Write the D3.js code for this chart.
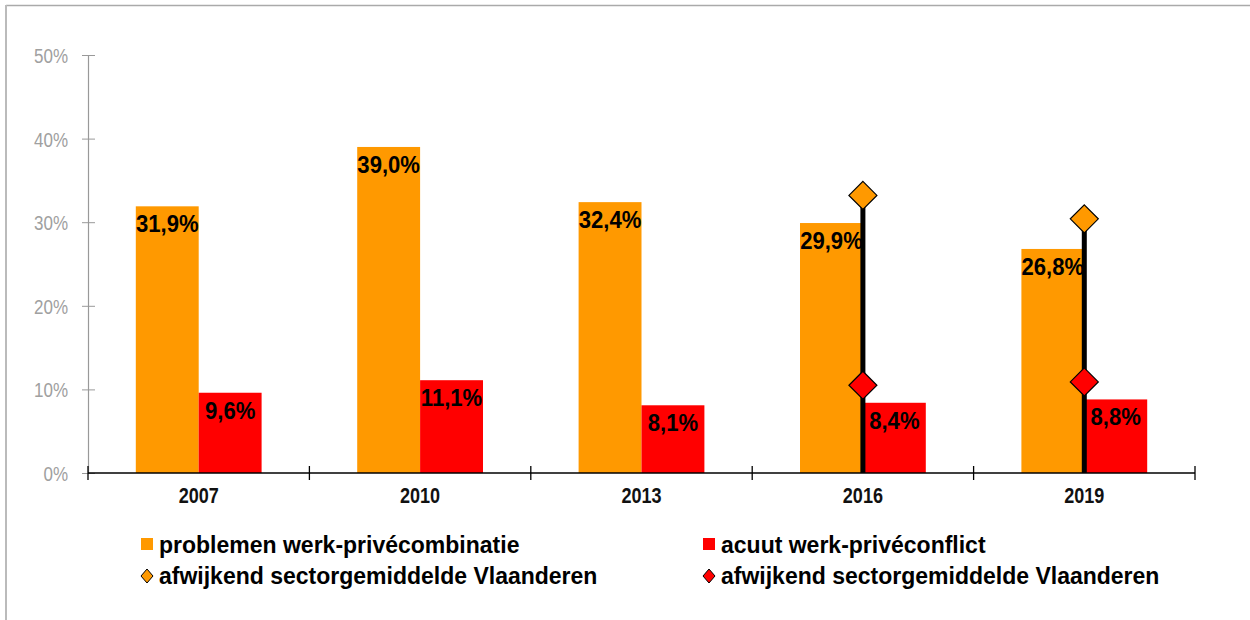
<!DOCTYPE html>
<html><head><meta charset="utf-8">
<script src="https://cdn.jsdelivr.net/npm/d3@7"></script>
<style>html,body{margin:0;padding:0;background:#fff;}svg{display:block;font-family:"Liberation Sans",Arial,sans-serif;}</style>
</head><body><svg id="c" width="1250" height="620"></svg>
<script>
const years = ["2007","2010","2013","2016","2019"];
const problemen = [31.9, 39.0, 32.4, 29.9, 26.8];
const acuut = [9.6, 11.1, 8.1, 8.4, 8.8];
const sectorProblemen = [null, null, null, 33.2, 30.4];
const sectorAcuut = [null, null, null, 10.5, 10.9];
const yTicks = [0, 10, 20, 30, 40, 50];
const seriesNames = ["problemen werk-privécombinatie", "acuut werk-privéconflict"];
const markerName = "afwijkend sectorgemiddelde Vlaanderen";
const colors = ["#FF9900", "#FF0000"];

const svg = d3.select("#c");
const fmt = v => v.toFixed(1).replace(".", ",") + "%";

// frame
svg.append("line").attr("x1",6).attr("x2",1250).attr("y1",5.5).attr("y2",5.5).attr("stroke","#aaa").attr("stroke-width",1.5);
svg.append("line").attr("x1",6).attr("x2",6).attr("y1",5).attr("y2",620).attr("stroke","#bbb").attr("stroke-width",2);

const x = d3.scaleBand().domain(years).range([88, 1195]);
const y = d3.scaleLinear().domain([0, 50]).range([473, 55]);
const sub = d3.scaleBand().domain([0,1]).range([0, x.bandwidth()]).paddingOuter(0.76).paddingInner(0);

// y axis
const ya = svg.append("g").attr("transform","translate(88,0)")
  .call(d3.axisLeft(y).tickValues(yTicks).tickSize(6).tickFormat(d => d + "%"));
ya.select(".domain").attr("stroke","#999").attr("stroke-width",1.2);
ya.selectAll(".tick line").attr("stroke","#999").attr("x1",7).attr("x2",-6);
ya.selectAll(".tick text").remove();
ya.selectAll(".tick").append("text")
  .attr("transform","translate(-20,0) scale(0.81,1)")
  .attr("text-anchor","end").attr("dy","0.36em")
  .attr("fill","#a0a0a0").attr("font-size",21)
  .style("font-family","'Liberation Sans',Arial")
  .text(d => d + "%");

// bars
const groups = svg.append("g");
years.forEach((yr, i) => {
  [problemen[i], acuut[i]].forEach((v, s) => {
    groups.append("rect")
      .attr("x", x(yr) + sub(s)).attr("width", sub.bandwidth())
      .attr("y", y(v)).attr("height", y(0) - y(v))
      .attr("fill", colors[s]);
  });
});

// x axis
const xa = svg.append("g").attr("transform","translate(0,473)");
xa.append("line").attr("x1",88).attr("x2",1195).attr("stroke","#000").attr("stroke-width",1.3);
const bounds = years.map(d => x(d)).concat([x.range()[1]]);
xa.selectAll(".tk").data(bounds).enter().append("line")
  .attr("x1", d => d).attr("x2", d => d).attr("y1",-7).attr("y2",7)
  .attr("stroke","#000").attr("stroke-width",1.3);
xa.selectAll(".lbl").data(years).enter().append("text")
  .attr("transform", d => `translate(${x(d) + x.bandwidth()/2},30) scale(0.82,1)`)
  .attr("text-anchor","middle").attr("font-weight","bold").attr("font-size",22)
  .attr("fill","#111").text(d => d);

// vertical lines
years.forEach((yr, i) => {
  const cx = x(yr) + x.bandwidth()/2;
  if (sectorProblemen[i] != null) {
    svg.append("line").attr("x1",cx).attr("x2",cx).attr("y1",y(sectorProblemen[i])).attr("y2",y(0))
      .attr("stroke","#000").attr("stroke-width",5);
  }
});

// value labels
years.forEach((yr, i) => {
  [problemen[i], acuut[i]].forEach((v, s) => {
    svg.append("text")
      .attr("transform", `translate(${x(yr) + sub(s) + sub.bandwidth()/2},${y(v) + 26}) scale(0.94,1)`)
      .attr("text-anchor","middle").attr("font-weight","bold").attr("font-size",23.5)
      .attr("fill","#000").text(fmt(v));
  });
});

// diamonds
years.forEach((yr, i) => {
  const cx = x(yr) + x.bandwidth()/2;
  [[sectorProblemen[i], colors[0]], [sectorAcuut[i], colors[1]]].forEach(([v, c]) => {
    if (v == null) return;
    const h = 14;
    svg.append("path")
      .attr("d", `M${cx},${y(v)-h}L${cx+h},${y(v)}L${cx},${y(v)+h}L${cx-h},${y(v)}Z`)
      .attr("fill", c).attr("stroke","#000").attr("stroke-width",1.2);
  });
});

// legend
const leg = svg.append("g");
const legX = [141, 703];
const rowY = [545, 576];
seriesNames.forEach((n, s) => {
  leg.append("rect").attr("x", legX[s]).attr("y", rowY[0]-7).attr("width",12).attr("height",12).attr("fill", colors[s]);
  leg.append("text").attr("x", legX[s] + 18).attr("y", rowY[0]).attr("dy","0.35em")
    .attr("font-weight","bold").attr("font-size",23).attr("fill","#000").text(n);
  const cx = legX[s] + 6, cy = rowY[1], h = 7;
  leg.append("path").attr("d", `M${cx},${cy-h}L${cx+h-1},${cy}L${cx},${cy+h}L${cx-h+1},${cy}Z`)
    .attr("fill", colors[s]).attr("stroke","#000").attr("stroke-width",1);
  leg.append("text").attr("x", legX[s] + 18).attr("y", rowY[1]).attr("dy","0.35em")
    .attr("font-weight","bold").attr("font-size",23).attr("fill","#000").text(markerName);
});
</script></body></html>
